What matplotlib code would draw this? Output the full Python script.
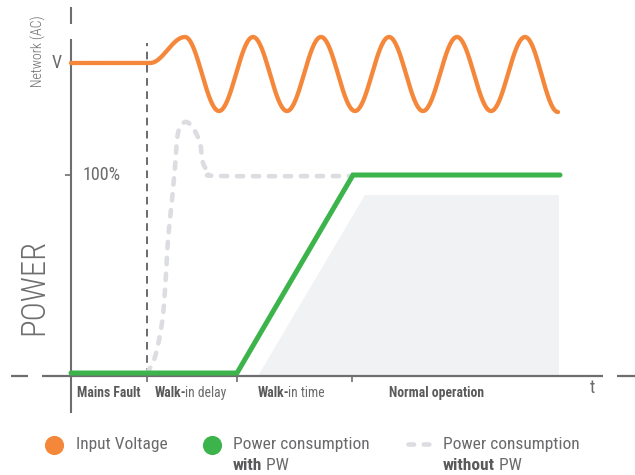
import numpy as np
import matplotlib
matplotlib.use("Agg")
import matplotlib.pyplot as plt
from matplotlib import font_manager

names = {f.name for f in font_manager.fontManager.ttflist}
prefs = ["Roboto Condensed", "Fira Sans Condensed", "Barlow Semi Condensed", "PT Sans Narrow",
         "Archivo Narrow", "Liberation Sans Narrow", "Roboto"]
FONT = next((p for p in prefs if p in names), "DejaVu Sans")
plt.rcParams['font.family'] = [FONT, 'DejaVu Sans']
plt.rcParams['lines.scale_dashes'] = False

# ---------------- data (time units along t, level units upward) ----------------
phase_ticks = [76, 166, 281]
phase_labels = [("Mains Fault", ""), ("Walk-", "in delay"), ("Walk-", "in time"), ("Normal operation", "")]
phase_label_x = [6, 84, 187, 318]

# input voltage: flat level, then extrema of the AC wave
volt_t = [0, 79, 114, 148, 182, 216, 250, 284, 318, 352, 386, 420, 454, 487]
volt_v = [313, 313, 339, 265, 339, 265, 339, 265, 339, 265, 339, 265, 339, 264]

# power consumption with PW (100% = 201)
pw_t = [0, 166, 282, 489]
pw_p = [3, 3, 201, 201]

# power consumption without PW (inrush spike)
nopw_t = [76, 84, 91, 94, 97, 101, 104, 107, 114, 122, 129, 132, 139, 149, 282]
nopw_p = [3, 19, 53, 86, 136, 176, 209, 243, 254, 248, 233, 213, 203, 200, 200]

# normal operation load area
area_t = [187, 294, 488, 488]
area_p = [0, 181, 181, 0]

level_100 = 201
level_V = 313

ORANGE = "#f5873a"
GREEN = "#3cb44b"
LGRAY = "#dcdde0"
FILL = "#f1f2f4"
AXC = "#6e6e70"
TXT = "#6a6a6c"
BTXT = "#5a5a5c"


def smooth_extrema(ts, vs, n=40):
    xs, ys = [ts[0]], [vs[0]]
    for i in range(len(ts) - 1):
        s = np.linspace(0, 1, n)[1:]
        xs.extend(ts[i] + (ts[i + 1] - ts[i]) * s)
        ys.extend(vs[i] + (vs[i + 1] - vs[i]) * (1 - np.cos(np.pi * s)) / 2)
    return np.array(xs), np.array(ys)


def catmull(ts, vs, n=20):
    P = np.column_stack([ts, vs]).astype(float)
    P = np.vstack([P[0], P, P[-1]])
    out = [P[1]]
    for i in range(1, len(P) - 2):
        p0, p1, p2, p3 = P[i - 1], P[i], P[i + 1], P[i + 2]
        for s in np.linspace(0, 1, n)[1:]:
            pt = 0.5 * ((2 * p1) + (-p0 + p2) * s + (2 * p0 - 5 * p1 + 4 * p2 - p3) * s ** 2
                        + (-p0 + 3 * p1 - 3 * p2 + p3) * s ** 3)
            out.append(pt)
    out = np.array(out)
    return out[:, 0], out[:, 1]


fig = plt.figure(figsize=(6.35, 4.75), dpi=100)
ax = fig.add_axes([0, 0, 1, 1])
ax.set_xlim(-71, 564)
ax.set_ylim(-99, 376)
ax.axis('off')

# load area
ax.fill(area_t, area_p, color=FILL, lw=0, zorder=1)

# axes lines
ax.plot([0, 0], [-37, 337], color=AXC, lw=1.5, solid_capstyle='butt', zorder=2)
ax.plot([0, 0], [352, 369], color=AXC, lw=1.5, solid_capstyle='butt', zorder=2)
ax.plot([-29, 532], [0, 0], color=AXC, lw=1.6, solid_capstyle='butt', zorder=2)
ax.plot([-60, -43], [0, 0], color=AXC, lw=1.6, solid_capstyle='butt', zorder=2)
ax.plot([546, 564], [0, 0], color=AXC, lw=1.6, solid_capstyle='butt', zorder=2)
for tk in phase_ticks:
    ax.plot([tk, tk], [0, -6], color=AXC, lw=1.2, solid_capstyle='butt', zorder=2)
ax.plot([0, -6], [level_100, level_100], color=AXC, lw=1.2, solid_capstyle='butt')

# mains fault dashed vertical line
ax.plot([phase_ticks[0], phase_ticks[0]], [0, 333], color="#5f5f61", lw=1.3,
        dashes=(5.5, 4), zorder=2)

# without PW dashed curve
xg, yg = catmull(nopw_t, nopw_p)
ax.plot(xg, yg, color=LGRAY, lw=3.3, dashes=(4.5, 7.0), dash_capstyle='round', zorder=3)

# with PW
ax.plot(pw_t, pw_p, color=GREEN, lw=3.6, solid_joinstyle='miter', solid_capstyle='round', zorder=4)

# input voltage
xv, yv = smooth_extrema(volt_t, volt_v)
ax.plot(xv, yv, color=ORANGE, lw=3.1, solid_capstyle='round', zorder=4)

# texts
ax.text(-33, 325, "Network (AC)", rotation=90, ha='center', va='center', fontsize=10, color=TXT,
        fontweight='light')
ax.text(-14, level_V, "V", ha='center', va='center', fontsize=13, color=TXT)
ax.text(12, level_100, "100%", ha='left', va='center', fontsize=13, color=TXT)
ax.text(-37, 89, "POWER", rotation=90, ha='center', va='center', fontsize=23.5,
        color=AXC, fontweight='light')
ax.text(521, -12, "t", ha='center', va='center', fontsize=13, color=TXT)

fig.canvas.draw()
r = fig.canvas.get_renderer()
inv = ax.transData.inverted()


def two_part(x, y, bold, normal, size, color1, color2=None, gap=-1.5):
    color2 = color2 or color1
    t1 = ax.text(x, y, bold, ha='left', va='center', fontsize=size, fontweight='bold', color=color1)
    if normal:
        bb = t1.get_window_extent(renderer=r)
        x2 = inv.transform((bb.x1 + gap, bb.y0))[0]
        ax.text(x2, y, normal, ha='left', va='center', fontsize=size, color=color2)


for (b, n), lx in zip(phase_labels, phase_label_x):
    two_part(lx, -17, b, n, 9.8, BTXT, TXT)

# legend
ax.scatter([-17], [-69], s=190, color=ORANGE, lw=0)
ax.text(5, -69, "Input Voltage", ha='left', va='center', fontsize=12.5, color=TXT)
ax.scatter([141], [-69], s=190, color=GREEN, lw=0)
ax.text(162, -69, "Power consumption", ha='left', va='center', fontsize=12.5, color=TXT)
two_part(162, -89, "with", " PW", 12.5, BTXT, TXT, gap=0)
ax.plot([337, 360], [-68, -68], color=LGRAY, lw=3.3, dashes=(4.0, 7.0), dash_capstyle='round')
ax.text(372, -69, "Power consumption", ha='left', va='center', fontsize=12.5, color=TXT)
two_part(372, -89, "without", " PW", 12.5, BTXT, TXT, gap=0)

fig.savefig("out.png", dpi=100)
